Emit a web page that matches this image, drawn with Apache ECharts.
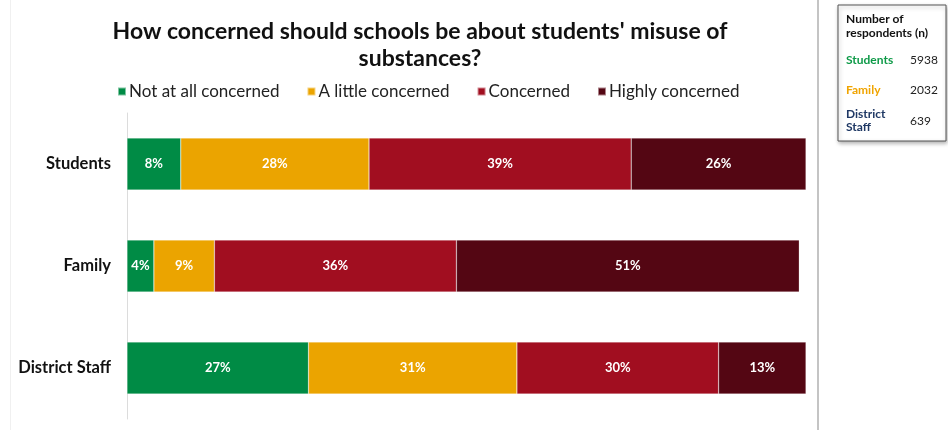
<!DOCTYPE html>
<html>
<head>
<meta charset="utf-8">
<script src="https://cdn.jsdelivr.net/npm/echarts@6/dist/echarts.min.js"></script>
<style>
  html, body { margin: 0; padding: 0; background: #fff; }
  #chart { width: 948px; height: 430px; }
</style>
</head>
<body>
<div id="chart"></div>
<script>
// Survey groups and share of responses (%) per concern level
const groups = ['Students', 'Family', 'District Staff'];
const levels = ['Not at all concerned', 'A little concerned', 'Concerned', 'Highly concerned'];
const notAtAll = [8, 4, 27];
const aLittle = [28, 9, 31];
const concerned = [39, 36, 30];
const highly = [26, 51, 13];

// Respondent counts shown in the side box
const respondentGroups = ['Students', 'Family', 'District\nStaff'];
const respondentCounts = [5938, 2032, 639];

const colors = ['#008b45', '#eba400', '#a10e20', '#540613'];
const groupColors = ['#0e9a48', '#f0a400', '#1f3864'];
const FONT = 'Lato, "DejaVu Sans", sans-serif';

const seriesData = [notAtAll, aLittle, concerned, highly];

const chart = echarts.init(document.getElementById('chart'));

const respondentGraphics = [];
const rowY = [54, 84, 108];
respondentGroups.forEach((g, i) => {
  respondentGraphics.push({
    type: 'text', left: 846, top: rowY[i],
    style: { text: g, fill: groupColors[i], font: 'bold 12px ' + FONT, lineHeight: 13 }
  });
  respondentGraphics.push({
    type: 'text', left: 910, top: rowY[i] + (i === 2 ? 7 : 0),
    style: { text: String(respondentCounts[i]), fill: '#222', font: '12px ' + FONT }
  });
});

chart.setOption({
  animation: false,
  color: colors,
  title: {
    text: "How concerned should schools be about students' misuse of\nsubstances?",
    left: 415, top: 13, textAlign: 'center',
    textStyle: { fontFamily: FONT, fontWeight: 'bold', fontSize: 23, color: '#111', lineHeight: 27 }
  },
  legend: {
    data: levels,
    left: 112, top: 78,
    itemWidth: 8, itemHeight: 8, itemGap: 27,
    icon: 'rect',
    textStyle: { fontFamily: FONT, fontSize: 17, color: '#222', padding: [0, 0, 0, -2] }
  },
  grid: { left: 127, right: 142, top: 113, bottom: 11 },
  xAxis: {
    type: 'value', min: 0, max: 101,
    show: false
  },
  yAxis: {
    type: 'category', data: groups, inverse: true,
    axisLine: { show: true, lineStyle: { color: '#dcdcdc', width: 1 } },
    axisTick: { show: false },
    axisLabel: { fontFamily: FONT, fontWeight: 'bold', fontSize: 16.5, color: '#111', margin: 16 }
  },
  series: levels.map((name, i) => ({
    name, type: 'bar', stack: 'total', barWidth: 52,
    data: seriesData[i],
    itemStyle: { borderColor: 'rgba(255,255,255,0.5)', borderWidth: 0.5 },
    label: {
      show: true, position: 'inside', formatter: '{c}%',
      color: '#fff', fontFamily: FONT, fontWeight: 'bold', fontSize: 13
    }
  })),
  graphic: [
    { type: 'line', shape: { x1: 818, y1: 0, x2: 818, y2: 430 }, style: { stroke: '#c4c4c4', lineWidth: 2 } },
    { type: 'line', shape: { x1: 10.5, y1: 0, x2: 10.5, y2: 430 }, style: { stroke: '#f0f0f0', lineWidth: 1 } },
    {
      type: 'rect', shape: { x: 838, y: 5, width: 108, height: 136 },
      style: { fill: '#fff', stroke: '#555', lineWidth: 1, shadowBlur: 4, shadowColor: 'rgba(0,0,0,0.3)', shadowOffsetX: 1, shadowOffsetY: 2 }
    },
    {
      type: 'text', left: 846, top: 12,
      style: { text: 'Number of\nrespondents (n)', fill: '#111', font: 'bold 12px ' + FONT, lineHeight: 14 }
    },
    ...respondentGraphics
  ]
});
</script>
</body>
</html>
